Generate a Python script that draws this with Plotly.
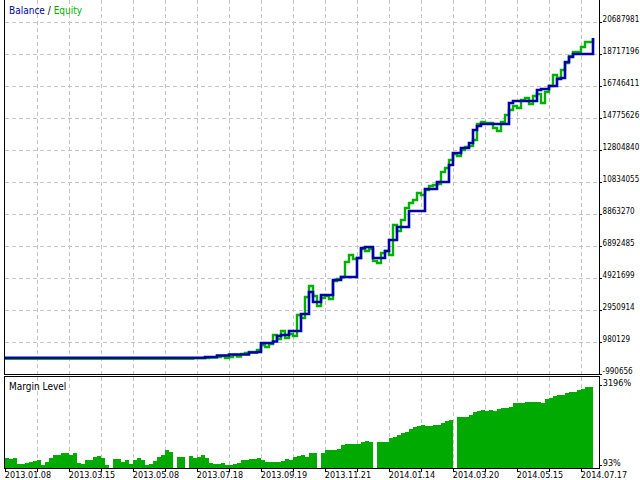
import plotly.graph_objects as go

# ---------------- data ----------------
balance = [
    10000, 10000, 10000, 10000, 10000, 10000, 10000, 10000, 10000, 10000,
    10000, 10000, 10000, 10000, 10000, 10000, 10000, 10000, 10000, 10000,
    10000, 10000, 10000, 10000, 10000, 10000, 10000, 10000, 10000, 10000,
    10000, 10000, 10000, 10000, 10000, 10000, 10000, 10000, 10000, 10000,
    10000, 10000, 10000, 10000, 10000, 10000, 10000, 10000, 10000, 10000,
    56000, 56000, 56000, 149000, 149000, 149000, 210000, 210000, 210000, 210000,
    210000, 333000, 333000, 364000, 919000, 919000, 919000, 1011000, 1350000, 1411000,
    1411000, 1658000, 1658000, 1658000, 2705000, 2705000, 4059000, 3444000, 3444000, 3875000,
    3875000, 3875000, 4799000, 4799000, 4983000, 4983000, 4983000, 4983000, 6153000, 6769000,
    6831000, 6831000, 6153000, 6153000, 6153000, 6585000, 7262000, 7262000, 8063000, 8063000,
    8063000, 9048000, 9048000, 9048000, 9048000, 10403000, 10403000, 10403000, 10834000, 10834000,
    10834000, 11881000, 12620000, 12620000, 12928000, 12928000, 13236000, 14037000, 14283000, 14406000,
    14406000, 14406000, 14406000, 14406000, 14406000, 14406000, 15699000, 15823000, 15823000, 15823000,
    15823000, 15823000, 15823000, 16500000, 16562000, 16562000, 16746000, 16746000, 17178000, 17239000,
    18224000, 18532000, 18717000, 18717000, 18717000, 18717000, 18717000, 19703000,
]

equity = [
    -60000, -60000, -60000, -60000, -60000, -60000, -60000, -60000, -60000, -60000,
    -60000, -60000, -60000, -60000, -60000, -60000, -60000, -60000, -60000, -60000,
    -60000, -60000, -60000, -60000, -60000, -60000, -60000, -60000, -60000, -60000,
    -60000, -60000, -60000, -60000, -60000, -60000, -60000, -60000, -60000, -60000,
    -60000, -60000, -60000, -60000, -60000, -60000, -60000, -20000, -20000, -20000,
    -5000, 26000, 26000, 56000, 118000, -5000, 56000, 179000, 87000, 241000,
    303000, 364000, 364000, 487000, 795000, 672000, 857000, 1411000, 1165000, 1658000,
    1226000, 1473000, 1350000, 2643000, 2458000, 3752000, 4429000, 3813000, 3197000, 3690000,
    3813000, 3628000, 4737000, 4860000, 4983000, 5907000, 6338000, 6092000, 6153000, 6708000,
    6585000, 6708000, 5969000, 5846000, 6461000, 6585000, 6338000, 8186000, 7816000, 8494000,
    9233000, 9541000, 9725000, 10157000, 10033000, 10341000, 10588000, 10649000, 10711000, 11450000,
    11696000, 12189000, 12558000, 12435000, 12805000, 12990000, 13051000, 13421000, 14406000, 14529000,
    14468000, 14468000, 14160000, 13975000, 14529000, 14960000, 15268000, 15515000, 15391000, 15884000,
    16007000, 15638000, 16131000, 16254000, 15699000, 16377000, 16746000, 17424000, 17239000, 17732000,
    18163000, 18594000, 18840000, 18840000, 19148000, 19456000, 19456000, 19703000,
]

margin_level = [
    396, 357, 384, 151, 140, 178, 240, 279, 306, 112,
    240, 372, 500, 500, 566, 566, 500, 590, 178, 140,
    306, 306, 434, 462, 384, 112, 0, 333, 333, 229,
    306, 151, 306, 384, 300, 100, 140, 279, 423, 500,
    694, 617, 0, 423, 423, 0, 462, 384, 423, 500,
    384, 190, 151, 151, 190, 112, 112, 140, 190, 306,
    306, 333, 333, 372, 306, 220, 240, 240, 240, 279,
    333, 306, 434, 462, 500, 420, 566, 566, 0, 566,
    694, 694, 694, 721, 888, 927, 927, 927, 927, 1016,
    1043, 1016, 0, 1016, 1016, 1016, 1148, 1210, 1264, 1365,
    1404, 1497, 1598, 1625, 1664, 1625, 1625, 1664, 1664, 1730,
    1831, 1858, 0, 1963, 1963, 1986, 2052, 2180, 2219, 2246,
    2219, 2246, 2219, 2273, 2312, 2312, 2351, 2506, 2506, 2506,
    2545, 2556, 2556, 2568, 2529, 2661, 2723, 2789, 2828, 2828,
    2894, 2956, 2956, 3022, 3072, 3126, 3150,
]

date_labels = ["2013.01.08", "2013.03.15", "2013.05.08", "2013.07.18", "2013.09.19",
               "2013.11.21", "2014.01.14", "2014.03.20", "2014.05.15", "2014.07.17"]
value_ticks = [-990656, 980129, 2950914, 4921699, 6892485, 8863270, 10834055,
               12804840, 14775626, 16746411, 18717196, 20687981]
margin_ticks = [93, 3196]

# ---------------- styling ----------------
FONT = "DejaVu Sans Condensed, DejaVu Sans, sans-serif"
BLUE = "#0000a8"
GREEN = "#00b000"
BAR_GREEN = "#00aa00"
GRID = "#c4c4c4"
DASH = "4px,3px"

x_line = list(range(len(balance)))
x_bar = list(range(len(margin_level)))
step = 8
x_tickvals = list(range(0, 145, step))
x_ticktext = [date_labels[k // 2] if k % 2 == 0 else "" for k in range(len(x_tickvals))]

fig = go.Figure()
fig.add_trace(go.Scatter(x=x_line, y=equity, mode="lines", line=dict(color=GREEN, width=2.4, shape="hv"),
                         xaxis="x", yaxis="y", hoverinfo="skip"))
fig.add_trace(go.Scatter(x=x_line, y=balance, mode="lines", line=dict(color=BLUE, width=2.6, shape="hv"),
                         xaxis="x", yaxis="y", hoverinfo="skip"))
fig.add_trace(go.Bar(x=x_bar, y=margin_level, width=1, offset=0, marker=dict(color=BAR_GREEN, line=dict(width=0)),
                     xaxis="x2", yaxis="y2", hoverinfo="skip"))

xr = [0, 148.5]
common_x = dict(range=xr, tickvals=x_tickvals, showgrid=True, gridcolor=GRID, griddash=DASH, gridwidth=1,
                showline=True, linecolor="black", linewidth=1, zeroline=False, automargin=False)

fig.update_layout(
    width=640, height=480,
    margin=dict(l=5, r=41, t=0, b=12, autoexpand=False),
    paper_bgcolor="white", plot_bgcolor="white",
    showlegend=False,
    font=dict(family=FONT, size=10, color="black"),
    xaxis=dict(domain=[0, 1], anchor="y", showticklabels=False, ticks="", mirror=False, **common_x),
    yaxis=dict(domain=[0.19979, 1], anchor="x", side="right", automargin=False,
               range=[-1021450, 22042882],
               tickvals=value_ticks, ticktext=[str(v) for v in value_ticks],
               showgrid=True, gridcolor=GRID, griddash=DASH, gridwidth=1,
               showline=True, mirror=True, linecolor="black", linewidth=1,
               ticks="outside", ticklen=2, tickcolor="black", zeroline=False,
               ticklabelshift=-3, ticklabelstandoff=-1,
               tickfont=dict(family=FONT, size=8, color="black")),
    xaxis2=dict(domain=[0, 1], anchor="y2", ticktext=x_ticktext, ticks="outside", ticklen=3,
                tickcolor="black", mirror=True, ticklabelshift=23, ticklabelstandoff=-5,
                tickfont=dict(family=FONT, size=9, color="black"), **common_x),
    yaxis2=dict(domain=[0, 0.19444], anchor="x2", side="right", range=[-4, 3526], automargin=False,
                tickvals=margin_ticks, ticktext=[f"{v}%" for v in margin_ticks],
                showgrid=False, showline=True, mirror=True, linecolor="black", linewidth=1,
                ticks="outside", ticklen=2, tickcolor="black", zeroline=False,
                ticklabelshift=-3, ticklabelstandoff=-1,
                tickfont=dict(family=FONT, size=9, color="black")),
    bargap=0,
    annotations=[
        dict(xref="paper", yref="paper", x=0.003, y=1, xanchor="left", yanchor="top", yshift=-3,
             showarrow=False,
             text=f"<span style='color:{BLUE}'>Balance</span> / <span style='color:{GREEN}'>Equity</span>",
             font=dict(family=FONT, size=10, color="black")),
        dict(xref="paper", yref="y2 domain", x=0.003, y=1, xanchor="left", yanchor="top", yshift=-2,
             showarrow=False, text="Margin Level", font=dict(family=FONT, size=10, color="black")),
    ],
)

fig.write_html("out.html", config={"displayModeBar": False},
               post_script="document.body.style.margin='0px';")
